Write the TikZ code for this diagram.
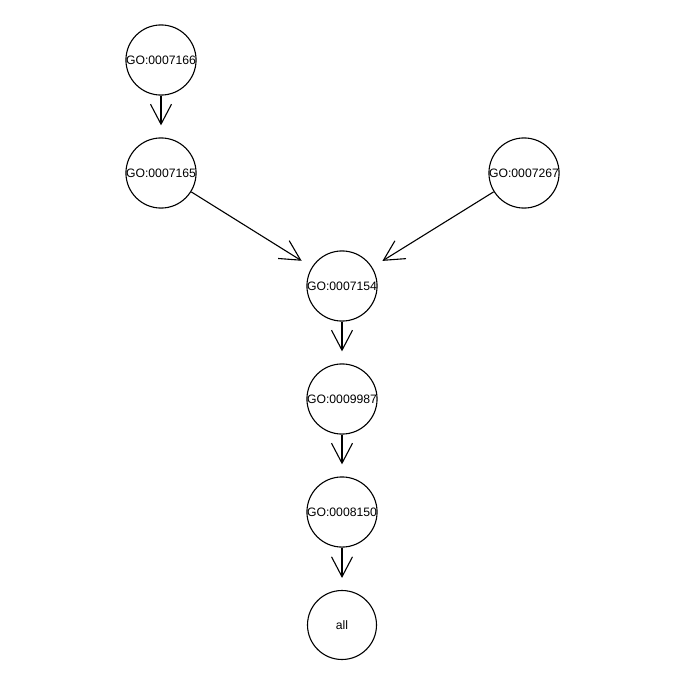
\documentclass[tikz,border=0pt]{standalone}
\usepackage{fontspec}
\setmainfont{Liberation Sans}
\usetikzlibrary{arrows.meta}
\begin{document}
\begin{tikzpicture}[x=0.5pt,y=-0.5pt,
  term/.style={circle,draw,line width=0.55pt,minimum size=34.5pt,inner sep=0pt,
    font=\fontsize{6.1pt}{6.5pt}\selectfont},
  isa/.style={line width=0.55pt,-{Straight Barb[length=10pt,width=10.5pt,line width=0.55pt]},shorten >=6pt}]
\useasboundingbox (0,0) rectangle (685,685);
\node[term] (n7166) at (161,60) {GO:0007166};
\node[term] (n7165) at (161,173) {GO:0007165};
\node[term] (n7267) at (524,173) {GO:0007267};
\node[term] (n7154) at (342,286) {GO:0007154};
\node[term] (n9987) at (342,399) {GO:0009987};
\node[term] (n8150) at (342,512) {GO:0008150};
\node[term] (all) at (342,625) {all};
\draw[isa] (n7166) -- (n7165);
\draw[isa] (n7165) -- (n7154);
\draw[isa] (n7267) -- (n7154);
\draw[isa] (n7154) -- (n9987);
\draw[isa] (n9987) -- (n8150);
\draw[isa] (n8150) -- (all);
\end{tikzpicture}
\end{document}
